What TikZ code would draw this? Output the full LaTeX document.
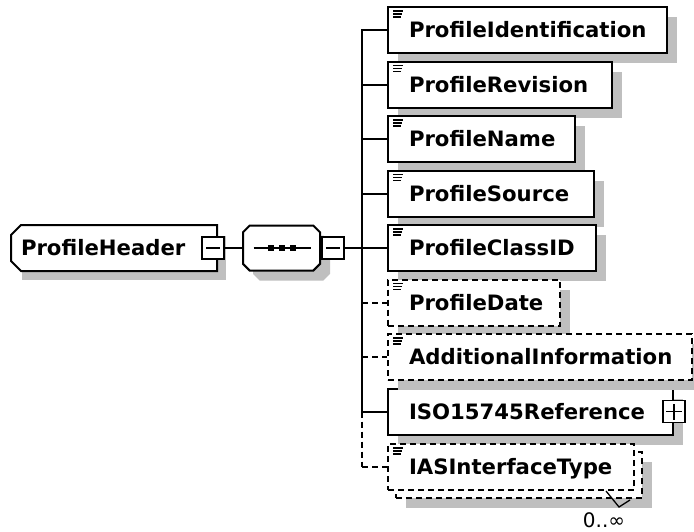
\documentclass[tikz,border=0pt]{standalone}
\usepackage{fontspec}
\setmainfont{DejaVu Sans}
\usetikzlibrary{shapes.misc, shadows}
\tikzset{ shd/.style = { drop shadow={shadow xshift=10pt,shadow yshift=-10pt,fill=black!25,opacity=1}
                       },
          elbox/.style = { rectangle
                         , draw
                         , fill           = white
                         , anchor         = west
                         , inner xsep     = 21pt
                         , minimum height = 46pt
                         , text height    = 15.5pt
                         , text depth     = 0pt
                         , align          = left
                         , font           = \bfseries\fontsize{21.2}{25}\selectfont
                         },
          el/.style = { elbox, shd },
          opt/.style = { dash pattern = on 6pt off 4pt },
          hd/.style = { rectangle
                      , fill           = white
                      , minimum width  = 204pt
                      , minimum height = 44pt
                      , inner xsep     = 0pt
                      , text width     = 186pt
                      , align          = left
                      , text height    = 15.5pt
                      , text depth     = 0pt
                      , font           = \bfseries\fontsize{21.2}{25}\selectfont
                      , shd
                      },
          seqbox/.style = { chamfered rectangle
                          , chamfered rectangle sep = 10pt
                          , draw
                          , fill           = white
                          , minimum width  = 77pt
                          , minimum height = 45pt
                          , shd
                          },
          tog/.style = { rectangle
                       , draw
                       , fill         = white
                       , line width   = 1.6pt
                       , inner sep    = 0pt
                       , minimum size = 22pt
                       },
          collapse/.style = { tog
                            , path picture = {
                                \draw[line width=1.6pt]
                                  ([xshift=-7pt]path picture bounding box.center)
                                  -- ([xshift=7pt]path picture bounding box.center);
                              }
                            },
          expand/.style = { tog
                          , path picture = {
                              \draw[line width=1.6pt]
                                ([xshift=-8pt]path picture bounding box.center)
                                -- ([xshift=8pt]path picture bounding box.center)
                                ([yshift=-8pt]path picture bounding box.center)
                                -- ([yshift=8pt]path picture bounding box.center);
                            }
                          }
        }

\begin{document}
\begin{tikzpicture}[x=1pt, y=-1pt, line width=2pt]
  \useasboundingbox (0,0) rectangle (694,531);
  \node[hd] (ph) at (114,248) {ProfileHeader};
  \draw ([xshift=10pt]ph.north west) -- (ph.north east) -- (ph.south east)
        -- ([xshift=10pt]ph.south west) -- ([yshift=10pt]ph.south west)
        -- ([yshift=-10pt]ph.north west) -- cycle;
  \node[collapse] (phm) at (213,248) {};
  \node[seqbox] (seq) at (281.5,248) {};
  \draw ([xshift=-28pt]seq.center) -- ([xshift=29pt]seq.center);
  \foreach \d in {-11pt,0pt,11pt} {
    \fill ([xshift=\d]seq.center) +(-3,-3) rectangle +(3,3);
  }
  \node[collapse, anchor=west] (seqm) at (seq.east) {};
  \draw (phm) -- (seq);
  % children of the sequence
  \foreach \n/\t/\w/\y in {1/ProfileIdentification/279/30, 2/ProfileRevision/224/84.5,
                           3/ProfileName/187/139, 4/ProfileSource/206/193.5,
                           5/ProfileClassID/208/248, 8/ISO15745Reference/285/411.5} {
    \node[el, text width=\w-42] (e\n) at (387,\y) {\t};
    \coordinate (b\n) at (362,\y);
  }
  \foreach \n/\t/\w/\y in {6/ProfileDate/172/302.5, 7/AdditionalInformation/304/357} {
    \node[el, opt, text width=\w-42] (e\n) at (387,\y) {\t};
    \coordinate (b\n) at (362,\y);
  }
  \node[el, opt, text width=204] (e9b) at (395,475) {};
  \node[elbox, opt, text width=204] (e9) at (387,467) {IASInterfaceType};
  \coordinate (b9) at (362,467);
  \node[expand] (e8x) at (e8.east) {};
  \foreach \n in {1,2,3,4,5,6,7,9} {
    \draw[line width=1.4pt] ([shift={(6,5)}]e\n.north west) -- +(10,0)
                            ([shift={(6,8)}]e\n.north west) -- +(9,0)
                            ([shift={(6,11)}]e\n.north west) -- +(8,0);
  }
  \draw (seqm) -- (b5);
  \draw[line cap=rect] (b1) -- (b8);
  \draw[opt] (b8) -- (b9);
  \foreach \n in {1,2,3,4,5,8} \draw (b\n) -- (e\n);
  \foreach \n in {6,7,9} \draw[opt] (b\n) -- (e\n);
  \draw[line width=1.3pt] ([xshift=-29pt]e9.south east) -- ++(13,16) -- ++(11,-7);
  \node[font=\fontsize{20}{24}\selectfont, inner sep=0pt, anchor=base] (occ) at (604,527) {0..∞};
\end{tikzpicture}
\end{document}
